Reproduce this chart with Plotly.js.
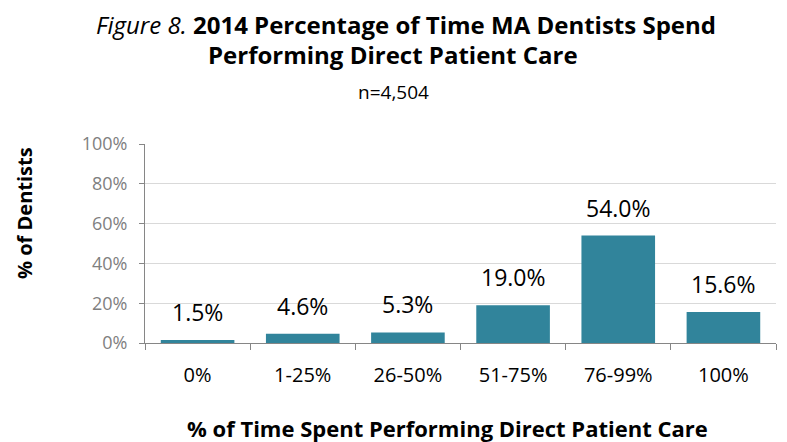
<!DOCTYPE html>
<html>
<head>
<meta charset="utf-8">
<script src="https://cdn.plot.ly/plotly-3.0.1.min.js"></script>
<style>html,body{margin:0;padding:0;background:#fff;}#chart{width:787px;height:442px;}</style>
</head>
<body>
<div id="chart"></div>
<script>
const categories = ["0%", "1-25%", "26-50%", "51-75%", "76-99%", "100%"];
const values = [0.015, 0.046, 0.053, 0.190, 0.540, 0.156];
const valueLabels = ["1.5%", "4.6%", "5.3%", "19.0%", "54.0%", "15.6%"];
const yTickVals = [0, 0.2, 0.4, 0.6, 0.8, 1.0];
const yTickText = ["0%", "20%", "40%", "60%", "80%", "100%"];

const FONT = "'Open Sans', sans-serif";

// plot area in pixels
const L = 145, R = 11, T = 144, B = 99, W = 787, H = 442;
const pw = W - L - R, ph = H - T - B;
const px = x => (x - L) / pw;
const py = y => (H - B - y) / ph;

const trace = {
  type: "bar",
  x: categories,
  y: values,
  marker: {color: "#31849B"},
  hoverinfo: "none"
};

const labelAnns = categories.map((c, i) => ({
  x: c, y: values[i], xref: "x", yref: "y",
  text: valueLabels[i], showarrow: false,
  xanchor: "center", yanchor: "bottom", yshift: 10,
  font: {family: FONT, size: 23, color: "#000"}
}));

const layout = {
  width: W, height: H,
  margin: {l: L, r: R, t: T, b: B},
  paper_bgcolor: "#fff", plot_bgcolor: "#fff",
  bargap: 0.3,
  showlegend: false,
  font: {family: FONT},
  xaxis: {
    type: "category",
    showline: true, linecolor: "#868686", linewidth: 1,
    ticks: "outside", tickson: "boundaries", ticklen: 6, tickcolor: "#868686",
    ticklabelstandoff: 14,
    tickfont: {family: FONT, size: 20, color: "#000"},
    showgrid: false, zeroline: false, fixedrange: true
  },
  yaxis: {
    range: [0, 1],
    tickvals: yTickVals, ticktext: yTickText,
    showline: true, linecolor: "#868686", linewidth: 1,
    ticks: "outside", ticklen: 5, tickcolor: "#868686",
    ticklabelstandoff: 8,
    tickfont: {family: FONT, size: 18, color: "#7f7f7f"},
    showgrid: true, gridcolor: "#d9d9d9", gridwidth: 1,
    zeroline: false, fixedrange: true
  },
  annotations: labelAnns.concat([
    {text: "<i>Figure 8.</i> <b>2014 Percentage of Time MA Dentists Spend</b>",
     xref: "paper", yref: "paper", x: px(406), y: py(24), xanchor: "center", yanchor: "middle",
     showarrow: false, font: {family: FONT, size: 24, color: "#000"}},
    {text: "<b>Performing Direct Patient Care</b>",
     xref: "paper", yref: "paper", x: px(393), y: py(55), xanchor: "center", yanchor: "middle",
     showarrow: false, font: {family: FONT, size: 24, color: "#000"}},
    {text: "n=4,504",
     xref: "paper", yref: "paper", x: px(393), y: py(92), xanchor: "center", yanchor: "middle",
     showarrow: false, font: {family: FONT, size: 19, color: "#000"}},
    {text: "<b>% of Dentists</b>",
     xref: "paper", yref: "paper", x: px(24), y: py(213), xanchor: "center", yanchor: "middle",
     textangle: -90, showarrow: false, font: {family: FONT, size: 20, color: "#000"}},
    {text: "<b>% of Time Spent Performing Direct Patient Care</b>",
     xref: "paper", yref: "paper", x: px(447), y: py(428), xanchor: "center", yanchor: "middle",
     showarrow: false, font: {family: FONT, size: 22, color: "#000"}}
  ])
};

Plotly.newPlot("chart", [trace], layout, {displayModeBar: false, staticPlot: true});
</script>
</body>
</html>
